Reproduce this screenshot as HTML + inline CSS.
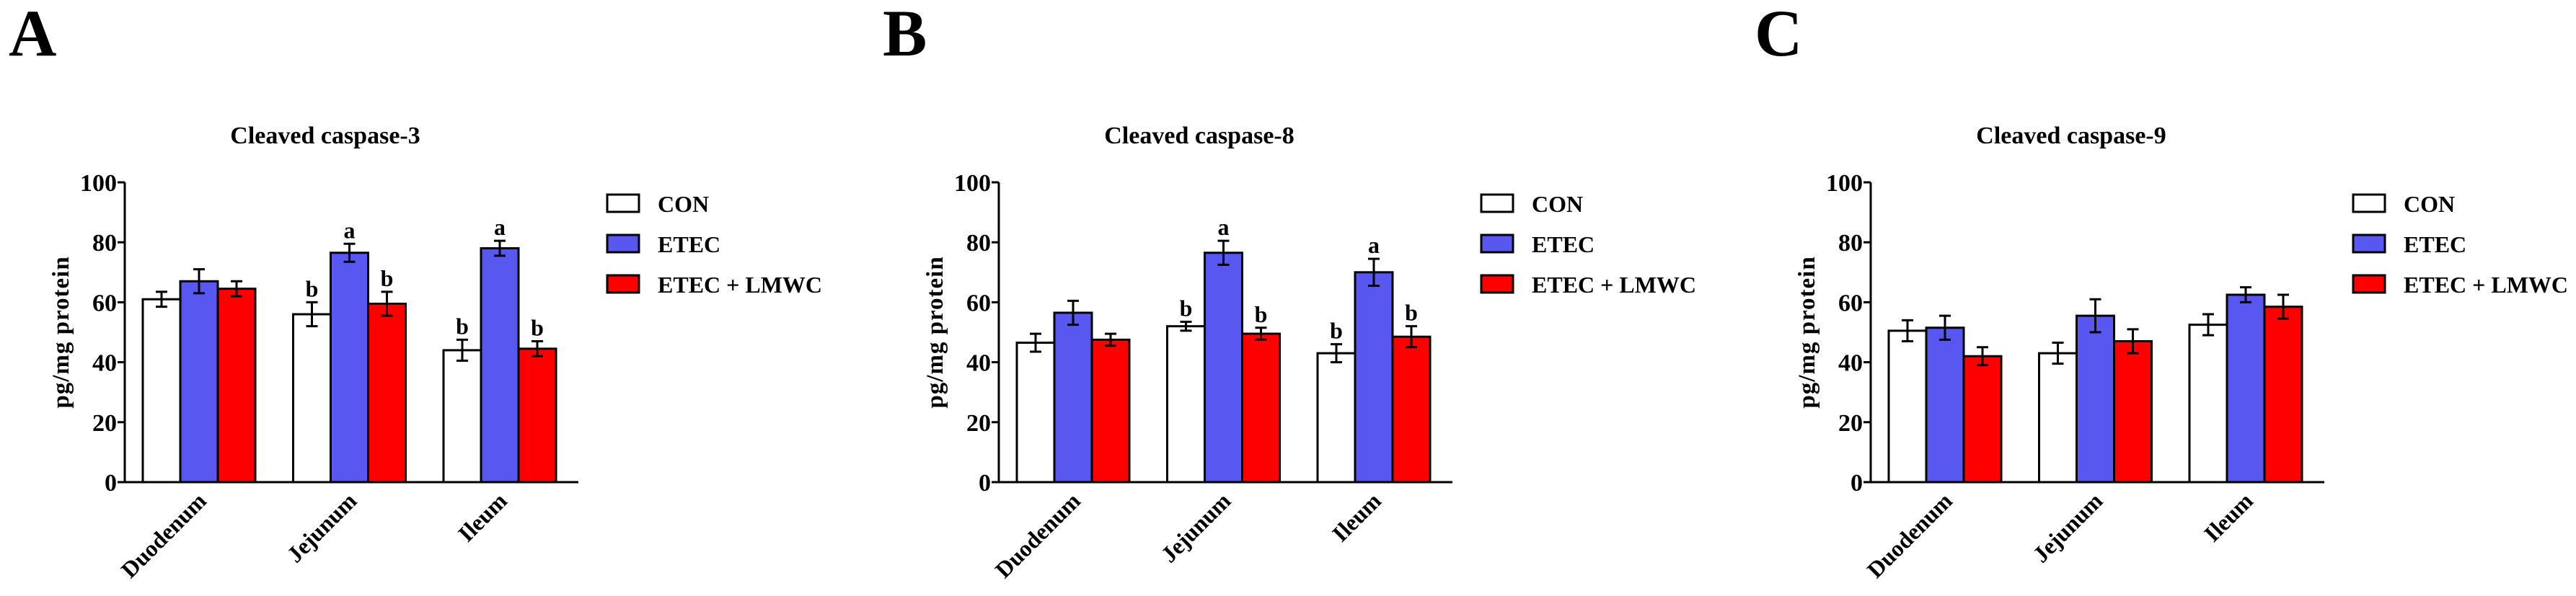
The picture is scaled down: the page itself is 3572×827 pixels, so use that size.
<!DOCTYPE html>
<html><head><meta charset="utf-8"><style>
html,body{margin:0;padding:0;background:#fff;}
svg{display:block;font-family:"Liberation Serif",serif;font-weight:bold;}
</style></head><body>
<svg id="fig" width="3572" height="827" viewBox="0 0 3572 827" xmlns="http://www.w3.org/2000/svg"></svg>
<script>
const panelLetters = ["A","B","C"];
const panelTitles = ["Cleaved caspase-3","Cleaved caspase-8","Cleaved caspase-9"];
const categories = ["Duodenum","Jejunum","Ileum"];
const seriesNames = ["CON","ETEC","ETEC + LMWC"];
const yTicks = [0,20,40,60,80,100];
const conA = [61,56,44], etecA = [67,76.5,78], lmwcA = [64.5,59.5,44.5];
const conErrA = [2.5,4,3.5], etecErrA = [4,3,2.5], lmwcErrA = [2.5,4,2.5];
const conSigA = ["","b","b"], etecSigA = ["","a","a"], lmwcSigA = ["","b","b"];
const conB = [46.5,52,43], etecB = [56.5,76.5,70], lmwcB = [47.5,49.5,48.5];
const conErrB = [3,1.5,3], etecErrB = [4,4,4.5], lmwcErrB = [2,2,3.5];
const conSigB = ["","b","b"], etecSigB = ["","a","a"], lmwcSigB = ["","b","b"];
const conC = [50.5,43,52.5], etecC = [51.5,55.5,62.5], lmwcC = [42,47,58.5];
const conErrC = [3.5,3.5,3.5], etecErrC = [4,5.5,2.5], lmwcErrC = [3,4,4];
const conSigC = ["","",""], etecSigC = ["","",""], lmwcSigC = ["","",""];

const NS="http://www.w3.org/2000/svg";
const svg=document.getElementById('fig');
function mk(tag,attrs,parent,text){const e=document.createElementNS(NS,tag);for(const k in attrs)e.setAttribute(k,attrs[k]);if(text!==undefined)e.textContent=text;(parent||svg).appendChild(e);return e;}
const panels=[
 {vals:[conA,etecA,lmwcA],errs:[conErrA,etecErrA,lmwcErrA],sigs:[conSigA,etecSigA,lmwcSigA]},
 {vals:[conB,etecB,lmwcB],errs:[conErrB,etecErrB,lmwcErrB],sigs:[conSigB,etecSigB,lmwcSigB]},
 {vals:[conC,etecC,lmwcC],errs:[conErrC,etecErrC,lmwcErrC],sigs:[conSigC,etecSigC,lmwcSigC]}];
const offsets=[0,1212,2421];
const fills=["#ffffff","#5858F0","#ff0000"];
const Y0=669,Y100=253;
function yS(v){return Y0-(v/100)*(Y0-Y100);}
const barW=52, groupStep=208.5;
panels.forEach((p,pi)=>{
  const ox=offsets[pi];
  const g=mk('g',{});
  
  
  const axX=ox+173;
  function xS(ci,si){return axX+25+ci*groupStep+si*barW;}
  let t=mk('text',{x:ox+12,y:77,'font-size':92},g,panelLetters[pi]);
  
  
  t=mk('text',{x:ox+451,y:199,'font-size':34,'text-anchor':'middle'},g,panelTitles[pi]);
  
  
  t=mk('text',{transform:`translate(${ox+95},461) rotate(-90)`,'font-size':33,'text-anchor':'middle','letter-spacing':'1'},g,'pg/mg protein');
  
  
  p.vals.forEach((arr,si)=>{
    arr.forEach((v,ci)=>{
      const x=xS(ci,si), y=yS(v);
      const r=mk('rect',{x:x,y:y,width:barW,height:Y0-y,fill:fills[si],stroke:'#000','stroke-width':3},g);
      
      
      const e=p.errs[si][ci], cx=x+barW/2, yt=yS(v+e), yb=yS(v-e);
      const eb=mk('path',{d:`M${cx},${yt}V${yb}M${cx-8},${yt}H${cx+8}M${cx-8},${yb}H${cx+8}`,stroke:'#000','stroke-width':3,fill:'none'},g);
      
      
      const s=p.sigs[si][ci];
      if(s){const st=mk('text',{x:cx,y:yt-8,'font-size':32,'text-anchor':'middle'},g,s);
        
        }
    });
  });
  const ax=mk('path',{d:`M${axX},${yS(100)}V${Y0}H${ox+802}`,stroke:'#000','stroke-width':3,fill:'none'},g);
  
  
  yTicks.forEach(tv=>{
    const yy=yS(tv);
    const tk=mk('path',{d:`M${axX-10},${yy}H${axX}`,stroke:'#000','stroke-width':3},g);
    
    
    const tl=mk('text',{x:axX-11,y:yy+12,'font-size':34,'text-anchor':'end'},g,String(tv));
    
    
  });
  categories.forEach((c,ci)=>{
    const cx=xS(ci,1)+barW/2+12;
    const cl=mk('text',{transform:`translate(${cx},697) rotate(-45)`,'font-size':32,'text-anchor':'end'},g,c);
    
    
  });
  seriesNames.forEach((n,si)=>{
    const ly=270+si*56;
    const lb=mk('rect',{x:ox+842,y:ly,width:44,height:24,fill:fills[si],stroke:'#000','stroke-width':3},g);
    
    
    const lt=mk('text',{x:ox+912,y:ly+24,'font-size':32},g,n);
    
    
  });
});
</script>
</body></html>
